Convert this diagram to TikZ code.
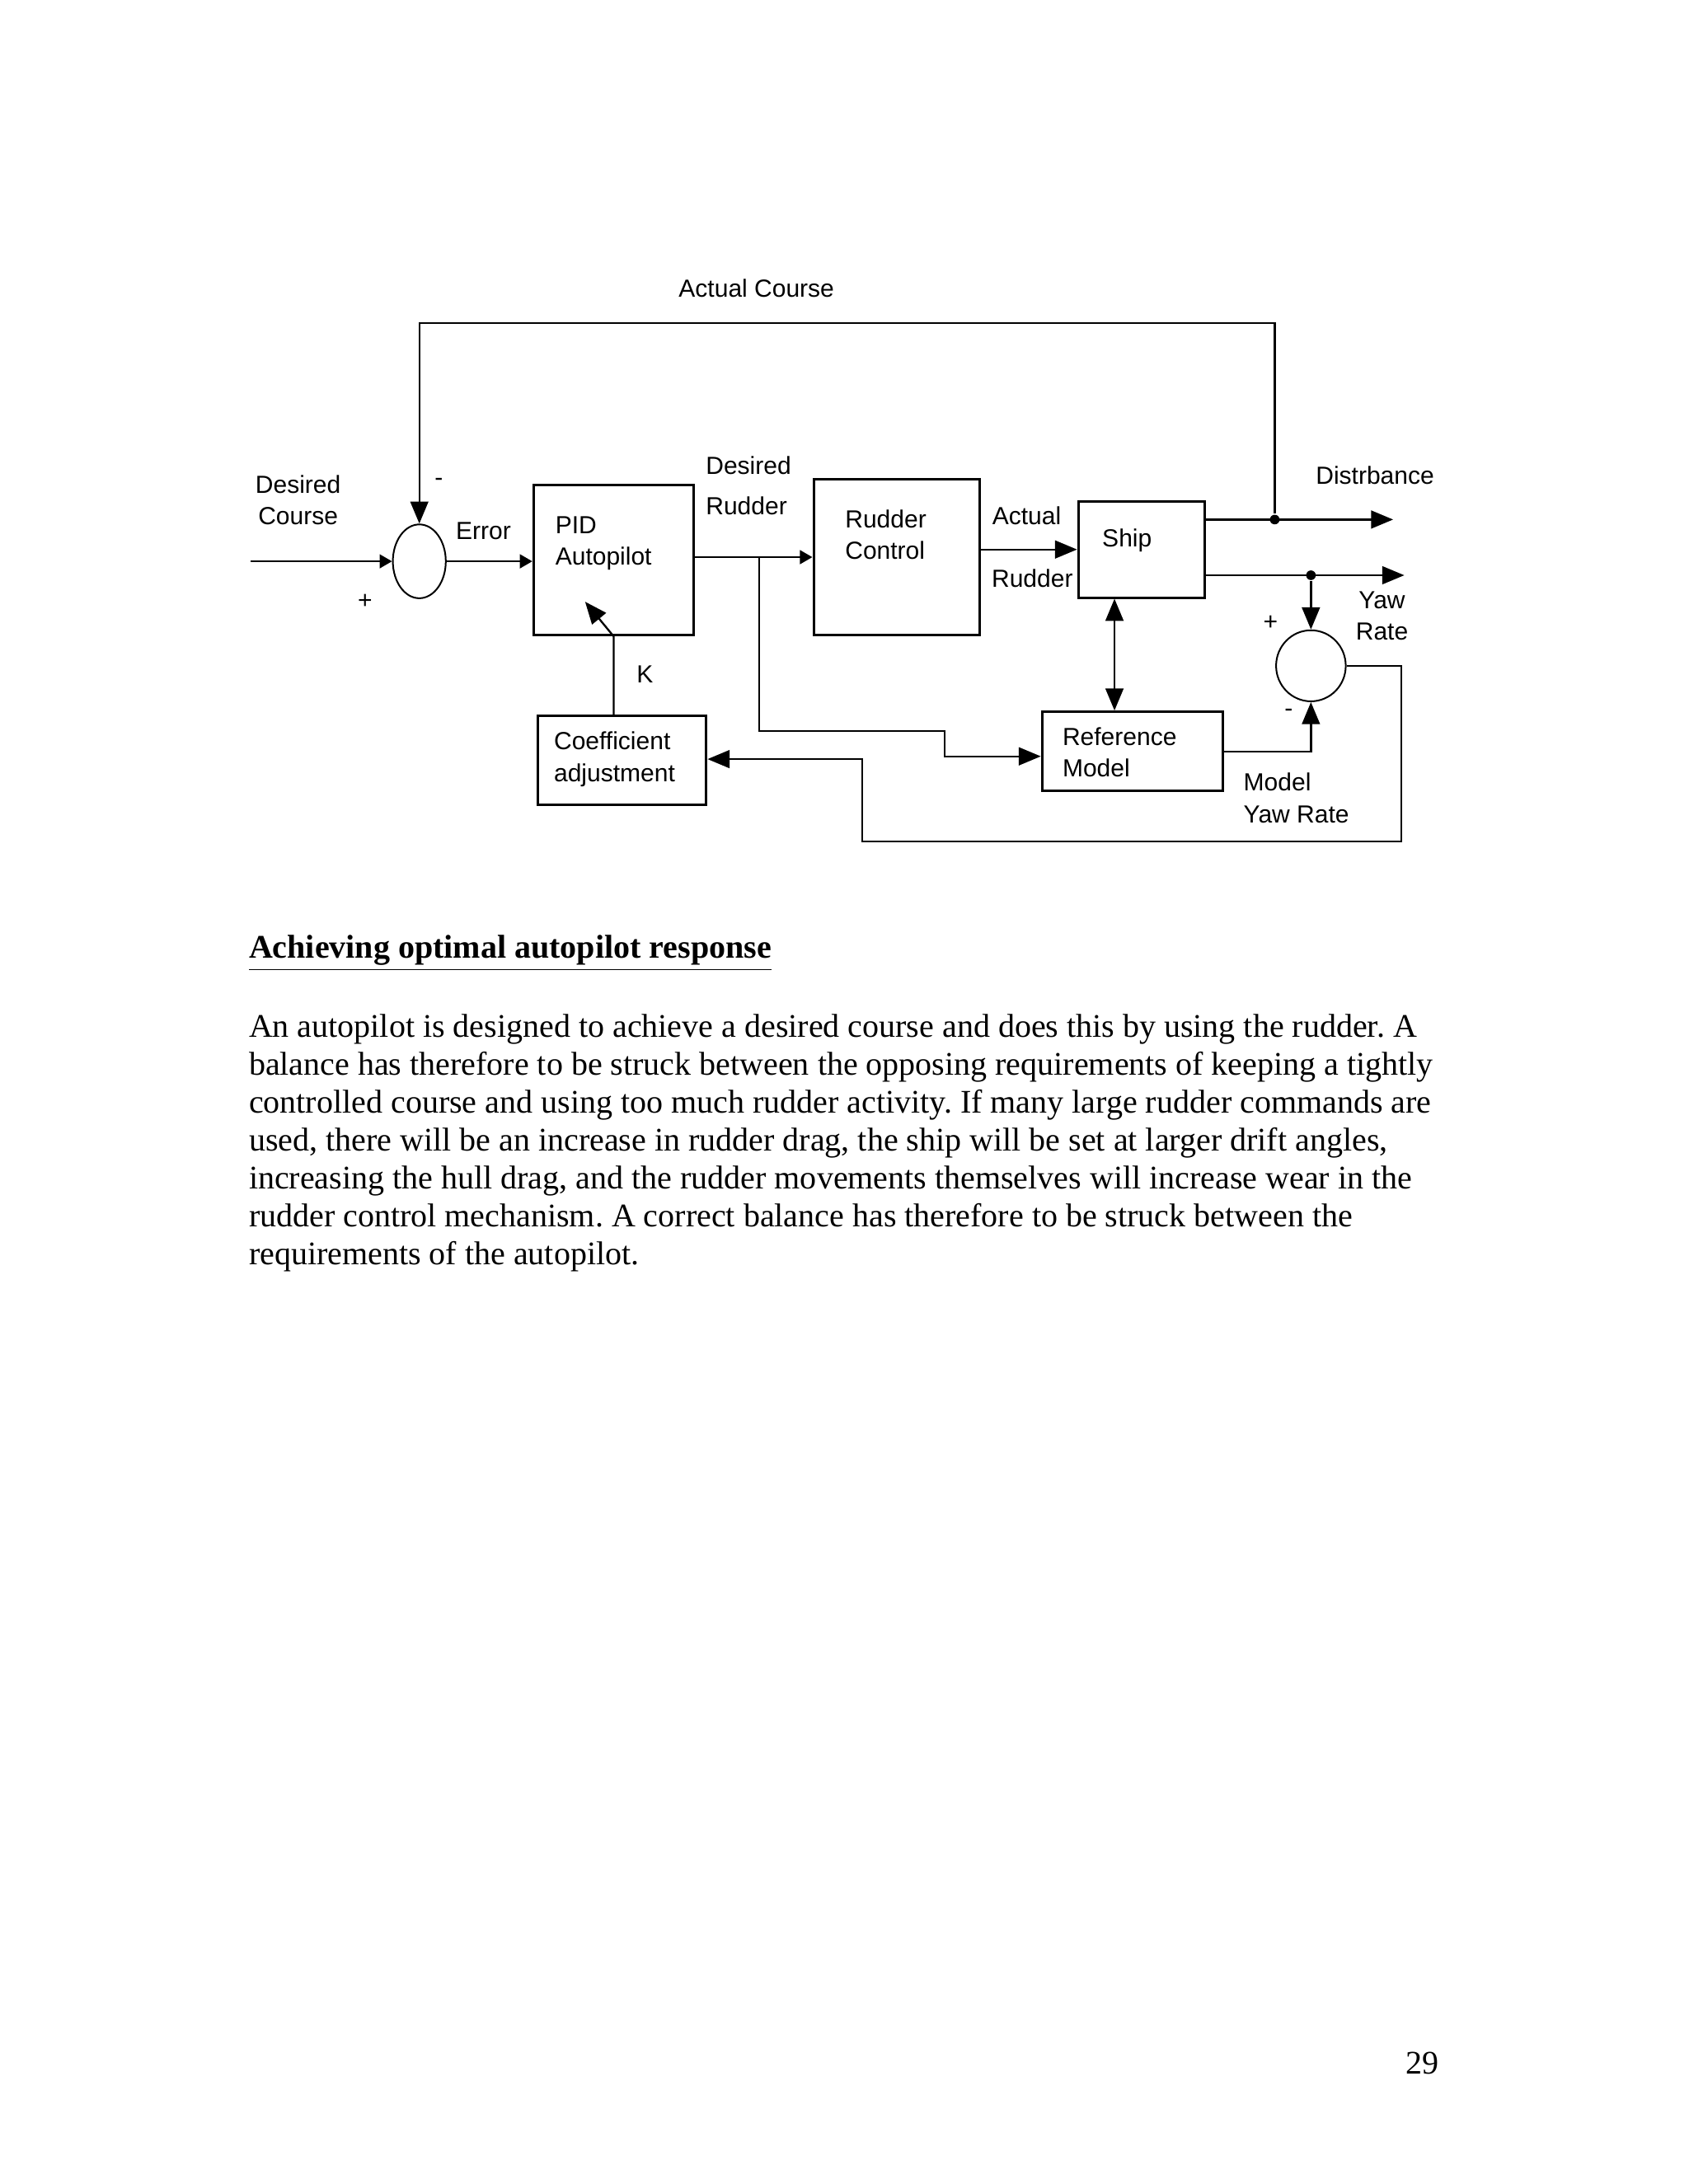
\documentclass[tikz,border=0pt]{standalone}
\usepackage{fontspec}
\setmainfont{Liberation Serif}
\newfontfamily\diagfont{Liberation Sans}
\usetikzlibrary{arrows.meta,shapes.geometric}

\newcommand{\px}{0.50495bp}
\frenchspacing

\begin{document}
\begin{tikzpicture}[
    x=\px, y=-\px,
    line width=0.7pt,
    lbl/.style={font=\diagfont\fontsize{9}{11.5}\selectfont, inner sep=0pt, align=left},
    block/.style={draw, line width=0.9pt, inner sep=0pt},
    sumpt/.style={draw, ellipse, inner sep=0pt, line width=0.6pt},
    big/.style={-{Triangle[length=8bp,width=6.5bp]}},
    small/.style={-{Triangle[length=4.5bp,width=5bp]}},
    dot/.style={circle, fill, inner sep=0pt, minimum size=3.5bp},
    body/.style={font=\fontsize{12}{13.78}\selectfont, inner sep=0pt, align=left, anchor=base west},
    ]

    \fill[white] (0,0) rectangle (1212,1568);
    \useasboundingbox (0,0) rectangle (1212,1568);

    % blocks
    \node [block, minimum width=115*\px, minimum height=108*\px] (pid)    at (440.5,402) {};
    \node [block, minimum width=119*\px, minimum height=112*\px] (rudctl) at (643.5,400) {};
    \node [block, minimum width=91*\px,  minimum height=69*\px]  (ship)   at (819.5,394.5) {};
    \node [block, minimum width=130*\px, minimum height=57*\px]  (refmod) at (813,539.5) {};
    \node [block, minimum width=121*\px, minimum height=64*\px]  (coeff)  at (446.5,546) {};
    \node [sumpt, minimum width=38*\px,  minimum height=53*\px]  (sumA)   at (301,403) {};
    \node [sumpt, minimum width=50*\px,  minimum height=51*\px]  (sumB)   at (941,478) {};

    % texts
    \node [lbl, anchor=west]  (pidtxt)   at (398,390) {PID\\Autopilot};
    \node [lbl, anchor=west]  (rctxt)    at (606,384) {Rudder\\Control};
    \node [lbl]               (shiptxt)  at (809,388) {Ship};
    \node [lbl, anchor=west]  (reftxt)   at (762,540) {Reference\\Model};
    \node [lbl, anchor=west]  (cofftxt)  at (397,545) {Coefficient\\adjustment};
    \node [lbl, align=center] (descrs)   at (214,359) {Desired\\Course};
    \node [lbl]               (actcrs)   at (543,207) {Actual Course};
    \node [lbl]               (errlbl)   at (347,381) {Error};
    \node [lbl, anchor=west]  (desrudA)  at (506,334) {Desired};
    \node [lbl, anchor=west]  (desrudB)  at (506,363) {Rudder};
    \node [lbl]               (actrudA)  at (737,370) {Actual};
    \node [lbl]               (actrudB)  at (741,415) {Rudder};
    \node [lbl]               (distlbl)  at (987,341) {Distrbance};
    \node [lbl, align=center] (yawlbl)   at (992,442) {Yaw\\Rate};
    \node [lbl, anchor=west]  (modyaw)   at (892,573) {Model\\Yaw Rate};
    \node [lbl]               (klbl)     at (463,484) {K};
    \node [lbl]               (sAminus)  at (315,346) {-};
    \node [lbl]               (sAplus)   at (262,432) {+};
    \node [lbl]               (sBplus)   at (912,447) {+};
    \node [lbl]               (sBminus)  at (925,512) {-};

    % junctions and free ends
    \coordinate (cin)     at (180,403);
    \coordinate (topL)    at (301,232);
    \coordinate (distend) at (1000,373);
    \coordinate (yawend)  at (1008,413);
    \coordinate (br)      at (545,400);
    \coordinate (stepA)   at (678,525);
    \coordinate (stepB)   at (678,543);
    \coordinate (fbR)     at (1006,604);
    \coordinate (fbL)     at (619,545);
    \coordinate (ktip)    at (420,432);
    \node [dot] (jd) at (915,373) {};
    \node [dot] (jy) at (941,413) {};

    % connectors
    \draw [small] (cin) -- (sumA.west);
    \draw [big] (jd) |- (topL) -- (sumA.north);
    \draw [small] (sumA.east) -- (pid.west |- sumA.east);
    \draw [small] (pid.east |- rudctl.west) -- (rudctl.west);
    \draw [big] (br) |- (stepA) |- (stepB) -- (refmod.west |- stepB);
    \draw [big] (rudctl.east |- ship.west) -- (ship.west);
    \draw [big] (ship.east |- jd) -- (distend);
    \draw [big] (ship.east |- jy) -- (yawend);
    \draw [big] (jy) -- (sumB.north);
    \draw [{Triangle[length=8bp,width=6.5bp]}-{Triangle[length=8bp,width=6.5bp]}]
        ([xshift=-19.5*\px]ship.south) -- ([xshift=-13*\px]refmod.north);
    \draw [big] (refmod.east) -| (sumB.south);
    \draw [big] (sumB.east) -| (fbR) -| (fbL) -- (coeff.east |- fbL);
    \draw [big] (coeff.north -| pid.south) -- (pid.south) -- (ktip);

    % page text
    \node [body, font=\fontsize{12}{13.78}\selectfont\bfseries] (heading) at (178,688)
        {\underline{Achieving optimal autopilot response}};
    \node [body] (para) at (178,908) {An autopilot is designed to achieve a desired course and does this by using the rudder. A\\
        balance has therefore to be struck between the opposing requirements of keeping a tightly\\
        controlled course and using too much rudder activity. If many large rudder commands are\\
        used, there will be an increase in rudder drag, the ship will be set at larger drift angles,\\
        increasing the hull drag, and the rudder movements themselves will increase wear in the\\
        rudder control mechanism. A correct balance has therefore to be struck between the\\
        requirements of the autopilot.};
    \node [body, anchor=base] (pagenum) at (1021,1489) {29};

\end{tikzpicture}
\end{document}
